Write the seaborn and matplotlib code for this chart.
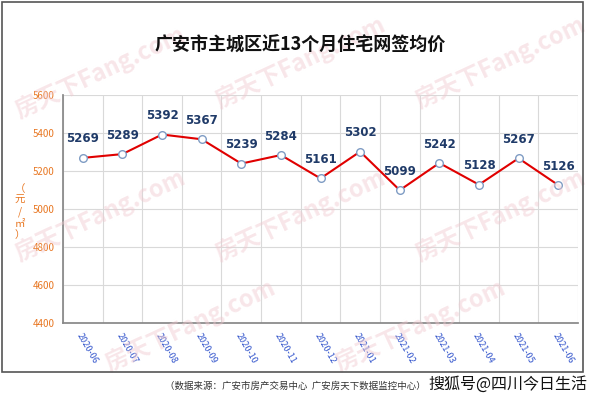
import matplotlib
matplotlib.use("Agg")
import matplotlib.pyplot as plt
import seaborn as sns
import pandas as pd
from matplotlib.patches import Rectangle

months = ["2020-06", "2020-07", "2020-08", "2020-09", "2020-10", "2020-11", "2020-12",
          "2021-01", "2021-02", "2021-03", "2021-04", "2021-05", "2021-06"]
prices = [5269, 5289, 5392, 5367, 5239, 5284, 5161, 5302, 5099, 5242, 5128, 5267, 5126]
yticks = [4400, 4600, 4800, 5000, 5200, 5400, 5600]

sns.set_theme(style="white")
plt.rcParams['font.family'] = ['Noto Sans CJK SC', 'DejaVu Sans']

df = pd.DataFrame({"month": months, "price": prices})
df["x"] = range(len(months))

fig = plt.figure(figsize=(6.0, 4.04), dpi=100)
ax = fig.add_axes([63/600, 1-323/404, (578-63)/600, (323-95)/404])

# watermarks
for (wx, wy) in [(100, 72), (300, 62), (500, 62), (100, 215), (300, 215), (500, 215),
                 (190, 325), (420, 325)]:
    fig.text(wx/600, 1-wy/404, "房天下Fang.com", fontsize=17, color="#f0c8cf", alpha=0.45,
             rotation=25, ha="center", va="center", zorder=0, fontweight="bold")

sns.lineplot(data=df, x="x", y="price", ax=ax, color="#e00000", linewidth=1.5,
             marker="o", markersize=5.5, markerfacecolor="white",
             markeredgecolor="#7f9cc4", markeredgewidth=1.0, zorder=3)

for xi, v in zip(df["x"], df["price"]):
    ax.annotate(str(v), (xi, v), xytext=(0, 9), textcoords="offset points",
                ha="center", va="bottom", fontsize=8.5, fontweight="bold",
                color="#1f3a68", family="DejaVu Sans")

ax.set_xlim(-0.5, len(months) - 0.5)
ax.set_ylim(4400, 5600)
ax.set_yticks(yticks)
ax.set_yticklabels([str(t) for t in yticks], color="#e87722", fontsize=7)
ax.set_xticks([i - 0.5 for i in range(len(months) + 1)], minor=False)
ax.set_xticklabels([""] * (len(months) + 1))
ax.set_xticks(range(len(months)), minor=True)
ax.set_xticklabels(months, minor=True, rotation=-60, ha="left", va="top",
                   rotation_mode="anchor", color="#3355cc", fontsize=6.5)
ax.tick_params(axis="x", which="minor", length=0, pad=6)
ax.tick_params(axis="x", which="major", length=4, color="#888888", direction="out")
ax.tick_params(axis="y", length=4, color="#888888", direction="out", pad=2)
ax.grid(True, which="major", color="#d9d9d9", linewidth=0.8)
ax.set_xlabel("")
ax.set_ylabel("")
for s in ["top", "right"]:
    ax.spines[s].set_visible(False)
ax.spines["left"].set_color("#888888")
ax.spines["bottom"].set_color("#888888")
ax.patch.set_alpha(0)

fig.text(20/600, 1-212/404, "（\n元\n/\n㎡\n）", color="#e87722", fontsize=7.5,
         ha="center", va="center", linespacing=1.2)

fig.text(300/600, 1-45/404, "广安市主城区近13个月住宅网签均价", fontsize=13,
         fontweight="bold", ha="center", va="center", color="#111111")

fig.text(165/600, 1-386/404, "（数据来源：广安市房产交易中心  广安房天下数据监控中心）",
         fontsize=6.8, ha="left", va="center", color="#333333")
fig.text(428/600, 1-384/404, "搜狐号@四川今日生活", fontsize=11.5,
         ha="left", va="center", color="#111111")

fig.patches.append(Rectangle((1.5/600, 1-372/404), 581/600, 370/404, transform=fig.transFigure,
                             fill=False, edgecolor="#555555", linewidth=1.2))

fig.savefig("out.png", dpi=100)
